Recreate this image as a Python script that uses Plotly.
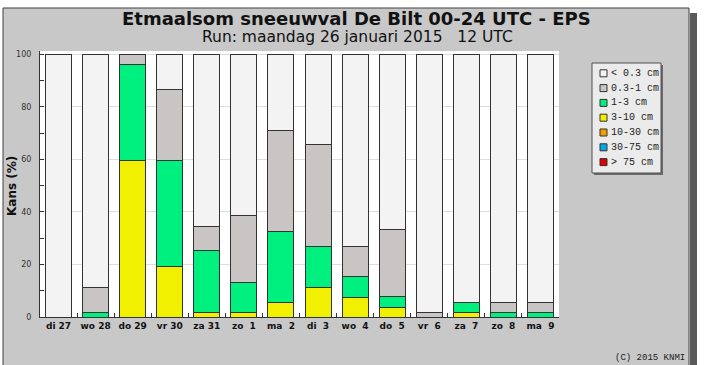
import plotly.graph_objects as go

# ---------------- data ----------------
days = ["di 27", "wo 28", "do 29", "vr 30", "za 31", "zo\u00a0\u00a01", "ma\u00a0\u00a02",
        "di\u00a0\u00a03", "wo\u00a0\u00a04", "do\u00a0\u00a05", "vr\u00a0\u00a06", "za\u00a0\u00a07",
        "zo\u00a0\u00a08", "ma\u00a0\u00a09"]

p_gt75 = [0, 0, 0, 0, 0, 0, 0, 0, 0, 0, 0, 0, 0, 0]
p_30_75 = [0, 0, 0, 0, 0, 0, 0, 0, 0, 0, 0, 0, 0, 0]
p_10_30 = [0, 0, 0, 0, 0, 0, 0, 0, 0, 0, 0, 0, 0, 0]
p_3_10 = [0, 0, 59.6, 19.2, 1.9, 1.9, 5.7, 11.4, 7.6, 3.8, 0, 1.9, 0, 0]
p_1_3 = [0, 1.9, 36.6, 40.4, 23.3, 11.4, 27.0, 15.4, 7.8, 4.0, 0, 3.8, 1.9, 1.9]
p_03_1 = [0, 9.5, 3.8, 27.0, 9.2, 25.3, 38.4, 38.8, 11.4, 25.6, 1.9, 0, 3.8, 3.8]
p_lt03 = [100, 88.6, 0, 13.4, 65.6, 61.4, 28.9, 34.4, 73.2, 66.6, 98.1, 94.3, 94.3, 94.3]

class_labels = ["< 0.3 cm", "0.3-1 cm", "1-3 cm", "3-10 cm", "10-30 cm", "30-75 cm", "> 75 cm"]
class_colors = ["#f3f3f3", "#c9c5c5", "#00f080", "#f0f000", "#f0a000", "#00a8e8", "#e00000"]

y_ticks = [0, 20, 40, 60, 80, 100]

title_text = "Etmaalsom sneeuwval De Bilt 00-24 UTC - EPS"
subtitle_text = "Run: maandag 26 januari 2015\u00a0\u00a0\u00a012 UTC"
credit_text = "(C) 2015 KNMI"
yaxis_text = "Kans (%)"

# ---------------- layout geometry (pixels) ----------------
W, H = 705, 365
PL, PR, PT, PB = 40, 559, 51, 317   # plot area


def px(x):
    return (x - PL) / (PR - PL)


def py(y):
    return (PB - y) / (PB - PT)


fig = go.Figure()

# stacked from bottom: > 75 ... < 0.3
stack = [p_gt75, p_30_75, p_10_30, p_3_10, p_1_3, p_03_1, p_lt03]
stack_idx = [6, 5, 4, 3, 2, 1, 0]
for vals, i in zip(stack, stack_idx):
    fig.add_trace(go.Bar(
        x=days, y=vals, name=class_labels[i],
        marker=dict(color=class_colors[i], line=dict(color="#333333", width=1)),
        showlegend=False,
    ))

shapes = []
# grey panel with frame
shapes.append(dict(type="rect", xref="paper", yref="paper", layer="below",
                   x0=px(3), x1=px(689), y0=py(370), y1=py(8),
                   fillcolor="#c8c8c8", line=dict(color="#404040", width=1)))
# right shadow
shapes.append(dict(type="rect", xref="paper", yref="paper", layer="below",
                   x0=px(690), x1=px(697), y0=py(370), y1=py(13),
                   fillcolor="#5a5a5a", line=dict(width=0)))
# white plot area
shapes.append(dict(type="rect", xref="paper", yref="paper", layer="below",
                   x0=0, x1=1, y0=0, y1=1,
                   fillcolor="#ffffff", line=dict(width=0)))

# legend box
LX0, LX1, LY0, LY1 = 592, 661, 63, 173
shapes.append(dict(type="rect", xref="paper", yref="paper", layer="above",
                   x0=px(LX0 + 2), x1=px(LX1 + 2), y0=py(LY1 + 2), y1=py(LY0 + 2),
                   fillcolor="#6a6a6a", line=dict(width=0)))
shapes.append(dict(type="rect", xref="paper", yref="paper", layer="above",
                   x0=px(LX0), x1=px(LX1), y0=py(LY1), y1=py(LY0),
                   fillcolor="#ebebeb", line=dict(color="#505050", width=1)))

annotations = []
for k, (lab, col) in enumerate(zip(class_labels, class_colors)):
    yc = 73.3 + 14.8 * k
    shapes.append(dict(type="rect", xref="paper", yref="paper", layer="above",
                       x0=px(600), x1=px(607), y0=py(yc + 3.5), y1=py(yc - 3.5),
                       fillcolor=col, line=dict(color="#333333", width=1)))
    annotations.append(dict(xref="paper", yref="paper", x=px(608.5), y=py(yc),
                            xanchor="left", yanchor="middle", showarrow=False,
                            text=lab.replace(" ", "\u00a0"),
                            font=dict(family="Liberation Mono", size=10, color="#222222")))

annotations += [
    dict(xref="paper", yref="paper", x=px(356), y=py(18), xanchor="center", yanchor="middle",
         showarrow=False, text="<b>" + title_text + "</b>",
         font=dict(family="DejaVu Sans", size=18, color="#111111")),
    dict(xref="paper", yref="paper", x=px(357), y=py(37), xanchor="center", yanchor="middle",
         showarrow=False, text=subtitle_text,
         font=dict(family="DejaVu Sans", size=15.5, color="#111111")),
    dict(xref="paper", yref="paper", x=px(687), y=py(358), xanchor="right", yanchor="middle",
         showarrow=False, text=credit_text,
         font=dict(family="Liberation Mono", size=9, color="#222222")),
    dict(xref="paper", yref="paper", x=px(12), y=py(186), xanchor="center", yanchor="middle",
         showarrow=False, text="<b>" + yaxis_text + "</b>", textangle=-90,
         font=dict(family="DejaVu Sans", size=12, color="#111111")),
]

fig.update_layout(
    width=W, height=H,
    margin=dict(l=PL, r=W - PR, t=PT, b=H - PB, pad=0, autoexpand=False),
    paper_bgcolor="#ffffff", plot_bgcolor="rgba(0,0,0,0)",
    barmode="stack", bargap=0.3,
    shapes=shapes, annotations=annotations,
    showlegend=False,
    xaxis=dict(type="category", categoryorder="array", categoryarray=days,
               showline=True, linecolor="#333333", linewidth=1,
               ticks="inside", tickson="boundaries", ticklen=4, tickcolor="#333333",
               showgrid=False, zeroline=False, tickangle=0, automargin=False,
               tickfont=dict(family="DejaVu Sans", size=9, color="#111111", weight="bold")),
    yaxis=dict(range=[0, 101.2], tickvals=y_ticks, automargin=False,
               showline=True, linecolor="#333333", linewidth=1,
               ticks="inside", ticklen=4, tickcolor="#333333",
               minor=dict(dtick=10, ticks="inside", ticklen=4, tickcolor="#333333", showgrid=False),
               showgrid=True, gridcolor="#dedede", gridwidth=1, zeroline=False,
               ticklabelstandoff=6,
               tickfont=dict(family="DejaVu Sans", size=8, color="#333333")),
)

fig.write_html("out.html", config={"displayModeBar": False},
               post_script="document.body.style.margin='0';")
